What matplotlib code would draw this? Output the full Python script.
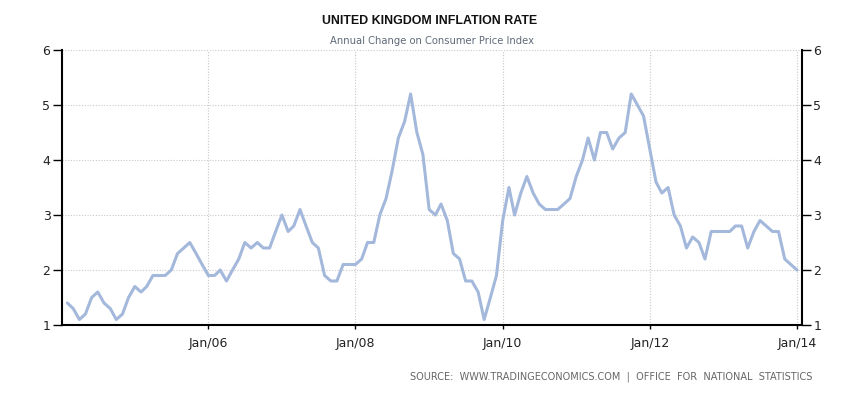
import numpy as np
import pandas as pd
import matplotlib
matplotlib.use("Agg")
import matplotlib.pyplot as plt
import matplotlib.dates as mdates

# UK CPI annual rate (%), monthly Jan 2004 - Dec 2013
cpi_2004 = [1.4, 1.3, 1.1, 1.2, 1.5, 1.6, 1.4, 1.3, 1.1, 1.2, 1.5, 1.7]
cpi_2005 = [1.6, 1.7, 1.9, 1.9, 1.9, 2.0, 2.3, 2.4, 2.5, 2.3, 2.1, 1.9]
cpi_2006 = [1.9, 2.0, 1.8, 2.0, 2.2, 2.5, 2.4, 2.5, 2.4, 2.4, 2.7, 3.0]
cpi_2007 = [2.7, 2.8, 3.1, 2.8, 2.5, 2.4, 1.9, 1.8, 1.8, 2.1, 2.1, 2.1]
cpi_2008 = [2.2, 2.5, 2.5, 3.0, 3.3, 3.8, 4.4, 4.7, 5.2, 4.5, 4.1, 3.1]
cpi_2009 = [3.0, 3.2, 2.9, 2.3, 2.2, 1.8, 1.8, 1.6, 1.1, 1.5, 1.9, 2.9]
cpi_2010 = [3.5, 3.0, 3.4, 3.7, 3.4, 3.2, 3.1, 3.1, 3.1, 3.2, 3.3, 3.7]
cpi_2011 = [4.0, 4.4, 4.0, 4.5, 4.5, 4.2, 4.4, 4.5, 5.2, 5.0, 4.8, 4.2]
cpi_2012 = [3.6, 3.4, 3.5, 3.0, 2.8, 2.4, 2.6, 2.5, 2.2, 2.7, 2.7, 2.7]
cpi_2013 = [2.7, 2.8, 2.8, 2.4, 2.7, 2.9, 2.8, 2.7, 2.7, 2.2, 2.1, 2.0]

values = (cpi_2004 + cpi_2005 + cpi_2006 + cpi_2007 + cpi_2008 +
          cpi_2009 + cpi_2010 + cpi_2011 + cpi_2012 + cpi_2013)
# each reading is drawn at the end of its month
dates = pd.date_range("2004-02-01", periods=len(values), freq="MS")

y_ticks = [1, 2, 3, 4, 5, 6]
x_ticks = pd.to_datetime(["2006-01-01", "2008-01-01", "2010-01-01",
                          "2012-01-01", "2014-01-01"])

line_color = "#a3b8db"

fig = plt.figure(figsize=(8.65, 3.96), dpi=100)
ax = fig.add_axes([0.0720, 0.1793, 0.8548, 0.6944])

ax.plot(dates, values, color=line_color, linewidth=2.2,
        solid_joinstyle="round", solid_capstyle="round", zorder=3)

ax.set_ylim(1, 6)
ax.set_yticks(y_ticks)
ax.set_xlim(pd.Timestamp("2004-01-07"), pd.Timestamp("2014-01-24"))
ax.set_xticks(x_ticks)
ax.xaxis.set_major_formatter(mdates.DateFormatter("Jan/%y"))

ax.grid(True, color="#c8c8c8", linestyle=(0, (1, 1.5)), linewidth=0.8)
ax.set_axisbelow(True)

for side in ["left", "right", "bottom"]:
    ax.spines[side].set_linewidth(1.5)
    ax.spines[side].set_color("black")
ax.spines["top"].set_visible(False)

ax.tick_params(axis="y", which="both", left=True, right=True,
               labelleft=True, labelright=True, length=6.5, width=1,
               direction="out", pad=2, labelsize=9, labelcolor="#222222")
ax.tick_params(axis="x", length=3, width=1, direction="out", pad=6,
               labelsize=9, labelcolor="#222222")

for lbl in ax.get_xticklabels() + ax.get_yticklabels():
    lbl.set_fontfamily("DejaVu Sans")

fig.text(0.497, 0.948, "UNITED KINGDOM INFLATION RATE", ha="center",
         va="center", fontsize=8.9, fontweight="bold", color="#111111",
         family="Liberation Sans")
fig.text(0.499, 0.897, "Annual Change on Consumer Price Index", ha="center",
         va="center", fontsize=7.2, color="#5f6a78", family="DejaVu Sans")
fig.text(0.939, 0.049,
         "SOURCE:  WWW.TRADINGECONOMICS.COM  |  OFFICE  FOR  NATIONAL  STATISTICS",
         ha="right", va="center", fontsize=7, color="#666666",
         family="DejaVu Sans")

fig.savefig("out.png", dpi=100)
